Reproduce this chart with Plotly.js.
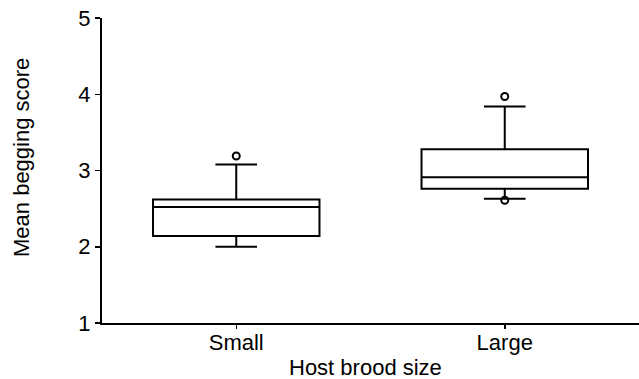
<!DOCTYPE html>
<html>
<head>
<meta charset="utf-8">
<script src="https://cdn.plot.ly/plotly-3.0.1.min.js"></script>
<style>html,body{margin:0;padding:0;background:#fff;}#chart{width:639px;height:379px;}</style>
</head>
<body>
<div id="chart"></div>
<script>
const categories = ['Small', 'Large'];
const q1 = [2.14, 2.76];
const median = [2.52, 2.91];
const q3 = [2.62, 3.28];
const lowerWhisker = [2.0, 2.63];
const upperWhisker = [3.08, 3.84];
const outlierX = ['Small', 'Large', 'Large'];
const outlierY = [3.19, 3.97, 2.61];
const yTicks = [1, 2, 3, 4, 5];
const xTitle = 'Host brood size';
const yTitle = 'Mean begging score';

const font = 'Liberation Sans, Arial, Helvetica, sans-serif';

const traces = [
  {
    type: 'box',
    x: categories,
    q1: q1,
    median: median,
    q3: q3,
    lowerfence: lowerWhisker,
    upperfence: upperWhisker,
    width: 0.62,
    whiskerwidth: 0.25,
    fillcolor: 'rgba(255,255,255,0)',
    line: {color: '#000', width: 2},
    boxpoints: false,
    hoverinfo: 'skip',
    showlegend: false
  },
  {
    type: 'scatter',
    mode: 'markers',
    x: outlierX,
    y: outlierY,
    marker: {symbol: 'circle-open', size: 7, color: '#000', line: {width: 2, color: '#000'}},
    hoverinfo: 'skip',
    showlegend: false
  }
];

const layout = {
  width: 639,
  height: 379,
  margin: {l: 102, r: 0, t: 18, b: 56},
  paper_bgcolor: '#fff',
  plot_bgcolor: '#fff',
  font: {family: font, color: '#000', size: 22},
  showlegend: false,
  xaxis: {
    type: 'category',
    categoryorder: 'array',
    categoryarray: categories,
    range: [-0.5, 1.5],
    showline: true,
    linecolor: '#000',
    linewidth: 2,
    ticks: 'outside',
    ticklen: 4,
    tickwidth: 1.5,
    tickcolor: '#000',
    ticklabelstandoff: -5,
    showgrid: false,
    zeroline: false,
    tickfont: {family: font, size: 22, color: '#000'}
  },
  yaxis: {
    range: [1, 5],
    tickvals: yTicks,
    ticktext: yTicks.map(String),
    showline: true,
    linecolor: '#000',
    linewidth: 2,
    ticks: 'outside',
    ticklen: 5,
    tickwidth: 1.5,
    tickcolor: '#000',
    showgrid: false,
    zeroline: false,
    tickfont: {family: font, size: 22, color: '#000'}
  },
  annotations: [
    {
      text: xTitle,
      xref: 'paper', yref: 'paper',
      x: 0.49, y: 0,
      xanchor: 'center', yanchor: 'middle',
      yshift: -44,
      showarrow: false,
      font: {family: font, size: 22, color: '#000'}
    },
    {
      text: yTitle,
      xref: 'paper', yref: 'paper',
      x: 0, y: 0.541,
      xanchor: 'center', yanchor: 'middle',
      xshift: -80,
      textangle: -90,
      showarrow: false,
      font: {family: font, size: 22, color: '#000'}
    }
  ]
};

Plotly.newPlot('chart', traces, layout, {displayModeBar: false, staticPlot: true});
</script>
</body>
</html>
